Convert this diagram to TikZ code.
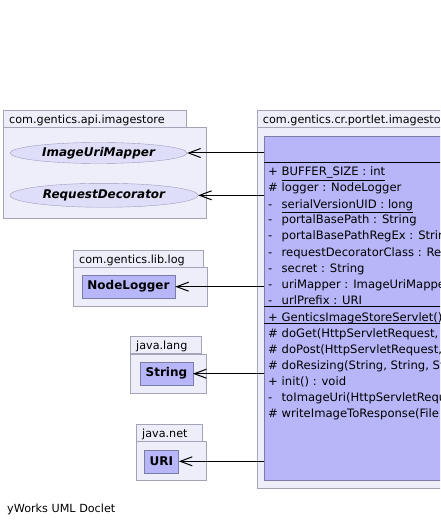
\documentclass[tikz,border=0pt]{standalone}
\usepackage{fontspec}
\setmainfont{DejaVu Sans}
\usetikzlibrary{shapes.geometric,arrows.meta}

\definecolor{pkgfill}{HTML}{EEEEFB}
\definecolor{pkgdraw}{HTML}{A4A4B8}
\definecolor{clsfill}{HTML}{B6B6F8}
\definecolor{clsdraw}{HTML}{7C7CA4}
\definecolor{ifcfill}{HTML}{DEDEF8}
\definecolor{ifcdraw}{HTML}{9C9CC0}

\newcommand{\umlfont}{\fontsize{11.2}{13}\selectfont}
\newcommand{\memberfont}{\fontsize{11.6}{13}\selectfont}
\newcommand{\namefont}{\fontsize{12}{14}\selectfont}
\newcommand{\vis}[1]{\makebox[13.5pt][l]{#1}}

\begin{document}
\begin{tikzpicture}[x=1pt,y=-1pt,
  dep/.style={-{Straight Barb[length=12pt,width=9pt]}, line width=1pt}]
 \useasboundingbox (0,0) rectangle (440,526);
 \clip (0,0) rectangle (440,526);
 % package tabs
 \begin{scope}[every node/.style={draw=pkgdraw, fill=pkgfill, anchor=north west,
     minimum height=17pt, inner xsep=6pt, inner ysep=0pt,
     text height=10pt, text depth=1pt, font=\umlfont}]
  \node[text width=171pt] (apitab) at (3,110) {com.gentics.api.imagestore};
  \node[text width=118pt] (logtab) at (73,250) {com.gentics.lib.log};
  \node[text width=59pt] (langtab) at (130,336) {java.lang};
  \node[text width=53.7pt] (nettab) at (136,424) {java.net};
  \node[text width=200pt] (portlettab) at (256.7,110) {com.gentics.cr.portlet.imagestore};
 \end{scope}
 % package bodies
 \begin{scope}[every node/.style={draw=pkgdraw, fill=pkgfill, anchor=north west,
     inner sep=0pt}]
  \node[minimum width=202.5pt, minimum height=91pt] (apibody) at (3,127) {};
  \node[minimum width=133.5pt, minimum height=39pt] (logbody) at (73,267) {};
  \node[minimum width=75.7pt, minimum height=38.7pt] (langbody) at (130,354) {};
  \node[minimum width=70pt, minimum height=39pt] (netbody) at (136,441) {};
  \node[minimum width=220pt, minimum height=361pt] (portletbody) at (256.7,127) {};
 \end{scope}
 % interfaces
 \begin{scope}[every node/.style={ellipse, draw=ifcdraw, fill=ifcfill, inner sep=0pt,
     font=\namefont\bfseries\itshape}]
  \node[minimum width=177pt, minimum height=21pt] (mapper) at (98.5,153) {ImageUriMapper};
  \node[minimum width=188pt, minimum height=24pt] (decorator) at (104,195.3) {RequestDecorator};
 \end{scope}
 % classes
 \begin{scope}[every node/.style={draw=clsdraw, fill=clsfill, anchor=west,
     minimum height=23pt, inner xsep=5.5pt, font=\namefont\bfseries}]
  \node (logger) at (81.7,286.7) {NodeLogger};
  \node (string) at (140,373.7) {String};
  \node (uri) at (144,461.3) {URI};
 \end{scope}
 \node[draw=clsdraw, fill=clsfill, anchor=north west, inner sep=0pt,
   minimum width=200pt, minimum height=344pt] (servlet) at (264,136) {};
 \draw ([yshift=-26pt]servlet.north west) -- ([yshift=-26pt]servlet.north east);
 \draw ([yshift=-170.5pt]servlet.north west) -- ([yshift=-170.5pt]servlet.north east);
 \draw ([yshift=-187pt]servlet.north west) -- ([yshift=-187pt]servlet.north east);
 % members
 \begin{scope}[every node/.style={anchor=base west, inner sep=0pt, font=\memberfont}]
  \node (f1) at (268,176) {\vis{+}\underline{BUFFER\_SIZE : int}};
  \node (f2) at (268,192) {\vis{\#}logger : NodeLogger};
  \node (f3) at (268,208) {\vis{-}\underline{serialVersionUID : long}};
  \node (f4) at (268,224) {\vis{-}portalBasePath : String};
  \node (f5) at (268,240) {\vis{-}portalBasePathRegEx : Strin};
  \node (f6) at (268,256) {\vis{-}requestDecoratorClass : Re};
  \node (f7) at (268,272) {\vis{-}secret : String};
  \node (f8) at (268,288) {\vis{-}uriMapper : ImageUriMappe};
  \node (f9) at (268,304) {\vis{-}urlPrefix : URI};
  \node (m1) at (268,321) {\vis{+}GenticsImageStoreServlet()};
  \node (m2) at (268,337) {\vis{\#}doGet(HttpServletRequest,};
  \node (m3) at (268,353) {\vis{\#}doPost(HttpServletRequest,};
  \node (m4) at (268,369) {\vis{\#}doResizing(String, String, St};
  \node (m5) at (268,385) {\vis{+}init() : void};
  \node (m6) at (268,401) {\vis{-}toImageUri(HttpServletRequ};
  \node (m7) at (268,417) {\vis{\#}writeImageToResponse(File};
 \end{scope}
 \node[anchor=base west, inner sep=0pt, font=\umlfont] (credit) at (7,512) {yWorks UML Doclet};
 \path [dep] (servlet.west |- mapper) edge (mapper);
 \path [dep] (servlet.west |- decorator) edge (decorator);
 \path [dep] (servlet.west |- logger) edge (logger);
 \path [dep] (servlet.west |- string) edge (string);
 \path [dep] (servlet.west |- uri) edge (uri);
\end{tikzpicture}
\end{document}
